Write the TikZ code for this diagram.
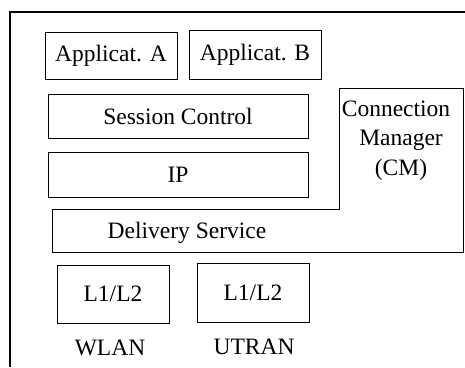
\documentclass[tikz,border=0pt]{standalone}
\usepackage{fontspec}
\setmainfont{Liberation Serif}
\begin{document}
\begin{tikzpicture}[x=1pt,y=-1pt,
  box/.style={draw,line width=1pt,inner sep=0pt,font=\fontsize{23.5}{28}\selectfont},
  lbl/.style={inner sep=0pt,font=\fontsize{23.5}{28}\selectfont}]
\useasboundingbox (0,0) rectangle (465,367);
\draw[line width=1.2pt] (10,367) -- (10,12) -- (466,12);
\node[box,minimum width=132pt,minimum height=47pt] (appa) at (111,55.5) {Applicat. A};
\node[box,minimum width=132pt,minimum height=49pt] (appb) at (255,54.5) {Applicat. B};
\node[box,minimum width=260pt,minimum height=44pt] (sess) at (178,116) {Session Control};
\node[box,minimum width=260pt,minimum height=45pt] (ip) at (178,174.5) {IP};
\draw[line width=1pt] (339,88) -- (463,88) -- (463,252) -- (52,252) -- (52,209) -- (339,209) -- cycle;
\node[lbl] (cm1) at (396,109) {Connection};
\node[lbl] (cm2) at (401,140) {Manager};
\node[lbl] (cm3) at (401,170) {(CM)};
\node[lbl] (deliv) at (187,233) {Delivery Service};
\node[box,minimum width=112pt,minimum height=58pt] (l1a) at (113,294) {L1/L2};
\node[box,minimum width=112pt,minimum height=59pt] (l1b) at (253,292.5) {L1/L2};
\node[lbl] (wlan) at (110,348) {WLAN};
\node[lbl] (utran) at (254,347) {UTRAN};
\end{tikzpicture}
\end{document}
